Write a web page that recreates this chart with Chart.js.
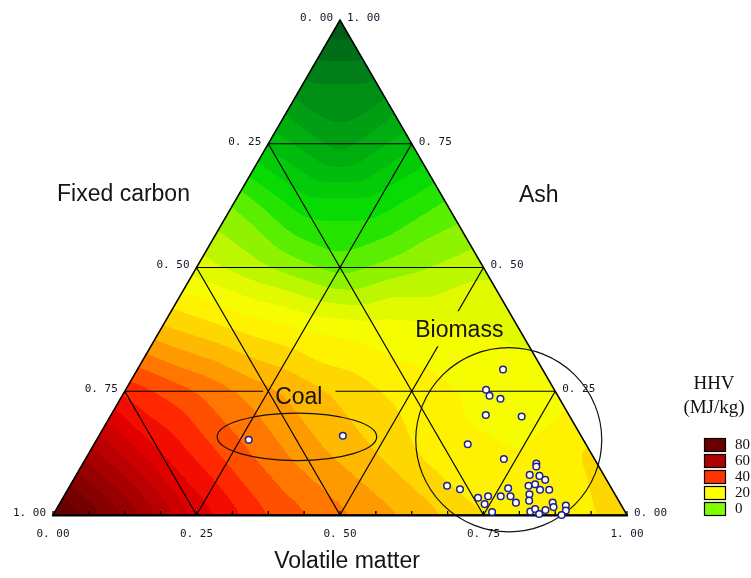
<!DOCTYPE html>
<html><head><meta charset="utf-8">
<script src="https://cdn.jsdelivr.net/npm/chart.js@4.4.1/dist/chart.umd.min.js"></script>
<style>html,body{margin:0;padding:0;background:#fff;overflow:hidden}#wrap{width:751px;height:578px;position:relative}</style>
</head><body><div id="wrap"><canvas id="c" width="751" height="578"></canvas></div>
<script>
// ---------- DATA ----------
const tickValues = [0, 0.25, 0.5, 0.75, 1];
const axisBottomName = 'Volatile matter';
const axisLeftName = 'Fixed carbon';
const axisRightName = 'Ash';

// Biomass samples (mass fractions)
const biomassVolatile = [0.637,0.628,0.640,0.662,0.653,0.717,0.651,0.729,0.790,0.793,0.657,0.683,0.790,0.808,0.822,0.799,0.809,0.823,0.839,0.766,0.761,0.778,0.794,0.723,0.739,0.741,0.762,0.809,0.815,0.828,0.834,0.846,0.853,0.858,0.864,0.884,0.889,0.886];
const biomassAsh      = [0.294,0.253,0.241,0.235,0.202,0.199,0.143,0.113,0.104,0.098,0.059,0.052,0.081,0.079,0.071,0.059,0.062,0.051,0.051,0.054,0.038,0.038,0.025,0.035,0.038,0.022,0.006,0.042,0.029,0.007,0.012,0.002,0.010,0.025,0.016,0.019,0.009,0.000];
const biomassFixedCarbon = [0.069,0.119,0.119,0.103,0.145,0.084,0.206,0.158,0.106,0.109,0.284,0.265,0.129,0.113,0.107,0.142,0.129,0.126,0.110,0.180,0.201,0.184,0.181,0.242,0.223,0.237,0.232,0.149,0.156,0.165,0.154,0.152,0.137,0.117,0.120,0.097,0.102,0.114];

// Coal samples
const coalVolatile = [0.265, 0.425];
const coalAsh = [0.152, 0.160];
const coalFixedCarbon = [0.583, 0.415];

// HHV (MJ/kg) surface read on a 1/8 ternary grid; each row = fixed ash level, entries = fixed carbon 0, 1/8, 2/8 ...
const hhvAsh000 = [27, 20, 24, 31, 37, 44, 55, 72, 86];
const hhvAsh125 = [25, 20, 21, 28, 34, 42, 52, 66];
const hhvAsh250 = [18, 19, 22, 27, 33, 40, 47];
const hhvAsh375 = [15, 17, 18, 20, 24, 29];
const hhvAsh500 = [11, 7, 2, 8, 14];
const hhvAsh625 = [1, -6, -6, 4];
const hhvAsh750 = [-13, -22, -13];
const hhvAsh875 = [-28, -28];
const hhvAsh1000 = [-40];

const legendTitle1 = 'HHV';
const legendTitle2 = '(MJ/kg)';
const legendLevels = [80, 60, 40, 20, 0];

// ---------- STYLE ----------
const legendColors = ['#6a0000', '#b00000', '#ff3300', '#ffff00', '#80ff00'];
const paletteStops = [
  [-44,[0,72,20]],[-36,[0,100,24]],[-28,[0,135,22]],[-20,[0,165,16]],[-12,[0,195,10]],
  [-4,[10,225,0]],[2,[90,238,0]],[8,[170,245,0]],[14,[225,250,0]],[20,[255,255,0]],
  [25,[255,222,0]],[30,[255,185,0]],[35,[255,145,0]],[40,[255,100,0]],[46,[255,40,0]],
  [52,[235,0,0]],[60,[195,0,0]],[70,[150,0,0]],[80,[110,0,0]],[90,[80,0,0]]
];
const BAND = 4;
const TICKFONT = "11px 'DejaVu Sans Mono', monospace";
const TITLEFONT = "23px 'Liberation Sans', Arial, sans-serif";

const hhvRows = [hhvAsh000,hhvAsh125,hhvAsh250,hhvAsh375,hhvAsh500,hhvAsh625,hhvAsh750,hhvAsh875,hhvAsh1000];

function nodeVal(i, j) {
  i = Math.max(0, Math.min(8, i));
  const r = hhvRows[i];
  return r[Math.max(0, Math.min(r.length - 1, j))];
}
function hhvAt(A, F) {
  const n = 8;
  const a = A * n, f = F * n;
  const ia = Math.min(Math.floor(a), n - 1), jf = Math.min(Math.floor(f), n - 1);
  const da = a - ia, df = f - jf;
  if (da + df <= 1 || ia + jf + 2 > n) {
    const v00 = nodeVal(ia, jf), v10 = nodeVal(ia + 1, jf), v01 = nodeVal(ia, jf + 1);
    return v00 + da * (v10 - v00) + df * (v01 - v00);
  }
  const v11 = nodeVal(ia + 1, jf + 1), v10 = nodeVal(ia + 1, jf), v01 = nodeVal(ia, jf + 1);
  return v11 + (1 - da) * (v01 - v11) + (1 - df) * (v10 - v11);
}
function colorFor(v) {
  if (v <= paletteStops[0][0]) return paletteStops[0][1];
  for (let k = 1; k < paletteStops.length; k++) {
    if (v <= paletteStops[k][0]) {
      const [v0, c0] = paletteStops[k - 1], [v1, c1] = paletteStops[k];
      const t = (v - v0) / (v1 - v0);
      return [0,1,2].map(m => Math.round(c0[m] + t * (c1[m] - c0[m])));
    }
  }
  return paletteStops[paletteStops.length - 1][1];
}
function boxBlur(src, w, h, r) {
  const tmp = new Float32Array(w * h), out = new Float32Array(w * h);
  for (let j = 0; j < h; j++) {
    let s = 0; const row = j * w;
    for (let i = -r; i <= r; i++) s += src[row + Math.max(0, Math.min(w - 1, i))];
    for (let i = 0; i < w; i++) {
      tmp[row + i] = s / (2 * r + 1);
      s += src[row + Math.min(w - 1, i + r + 1)] - src[row + Math.max(0, i - r)];
    }
  }
  for (let i = 0; i < w; i++) {
    let s = 0;
    for (let j = -r; j <= r; j++) s += tmp[Math.max(0, Math.min(h - 1, j)) * w + i];
    for (let j = 0; j < h; j++) {
      out[j * w + i] = s / (2 * r + 1);
      s += tmp[Math.min(h - 1, j + r + 1) * w + i] - tmp[Math.max(0, j - r) * w + i];
    }
  }
  return out;
}
const fmt = t => t.toFixed(2).replace('.', '. ');

// ternary -> cartesian data coordinates (x along base, y = ash)
const toXY = (V, A) => ({x: V + A / 2, y: A});

const biomassData = biomassVolatile.map((v, i) => toXY(v, biomassAsh[i]));
const coalData = coalVolatile.map((v, i) => toXY(v, coalAsh[i]));

// annotation shapes (data units)
const biomassCircle = {cx: 0.794, cy: 0.152, rx: 0.162, ry: 0.186};
const coalEllipse = {cx: 0.425, cy: 0.158, rx: 0.139, ry: 0.048};
// each label interrupts one grid line: [family, level]
const annoLabels = [
  {t: 'Coal', x: 0.387, y: 0.224, breaks: ['A', 0.25]},
  {t: 'Biomass', x: 0.631, y: 0.359, breaks: ['V', 0.5]}
];

const ternaryPlugin = {
  id: 'ternary',
  beforeDatasetsDraw(chart) {
    const ctx = chart.ctx, xs = chart.scales.x, ys = chart.scales.y;
    const P = (V, A) => { const d = toXY(V, A); return [xs.getPixelForValue(d.x), ys.getPixelForValue(d.y)]; };

    // ---- contour field ----
    const M = 24;
    const x0 = Math.floor(xs.getPixelForValue(0)) - M, x1 = Math.ceil(xs.getPixelForValue(1)) + M;
    const y0 = Math.floor(ys.getPixelForValue(1)) - M, y1 = Math.ceil(ys.getPixelForValue(0)) + M;
    const w = x1 - x0, h = y1 - y0;
    const field = new Float32Array(w * h);
    const inside = new Uint8Array(w * h);
    for (let j = 0; j < h; j++) {
      const A0 = ys.getValueForPixel(y0 + j + 0.5);
      for (let i = 0; i < w; i++) {
        const xv = xs.getValueForPixel(x0 + i + 0.5);
        const V0 = xv - A0 / 2, F0 = 1 - V0 - A0;
        if (A0 >= 0 && V0 >= -0.001 && F0 >= -0.001) inside[j * w + i] = 1;
        let A = Math.max(0, Math.min(1, A0)), V = Math.max(0, V0), F = Math.max(0, F0);
        const s = A + V + F; A /= s; F /= s;
        field[j * w + i] = hhvAt(A, F);
      }
    }
    const sm = boxBlur(boxBlur(field, w, h, 9), w, h, 9);
    const off = document.createElement('canvas'); off.width = w; off.height = h;
    const octx = off.getContext('2d'); const img = octx.createImageData(w, h); const d = img.data;
    for (let k = 0; k < w * h; k++) {
      if (!inside[k]) continue;
      const c = colorFor(Math.floor(sm[k] / BAND) * BAND + BAND / 2);
      d[k * 4] = c[0]; d[k * 4 + 1] = c[1]; d[k * 4 + 2] = c[2]; d[k * 4 + 3] = 255;
    }
    octx.putImageData(img, 0, 0);
    ctx.drawImage(off, x0, y0);

    // ---- grid (with label knockouts) ----
    ctx.save();
    ctx.font = TITLEFONT;
    const labels = annoLabels.map(l => ({...l, px: xs.getPixelForValue(l.x), py: ys.getPixelForValue(l.y), w: ctx.measureText(l.t).width}));
    ctx.strokeStyle = '#000'; ctx.lineWidth = 1.2;
    const gridLine = (fam, t, a, b) => {
      ctx.save();
      const ko = labels.filter(l => l.breaks[0] === fam && l.breaks[1] === t);
      if (ko.length) {
        ctx.beginPath(); ctx.rect(0, 0, chart.width, chart.height);
        ko.forEach(l => ctx.rect(l.px - 12, l.py - 26, l.w + 25, 35));
        ctx.clip('evenodd');
      }
      ctx.beginPath(); ctx.moveTo(a[0], a[1]); ctx.lineTo(b[0], b[1]); ctx.stroke();
      ctx.restore();
    };
    for (const t of [0.25, 0.5, 0.75]) {
      gridLine('A', t, P(0, t), P(1 - t, t));
      gridLine('V', t, P(t, 0), P(t, 1 - t));
      gridLine('F', 1 - t, P(1 - t, 0), P(0, 1 - t));
    }
    ctx.restore();

    // ---- triangle edges ----
    ctx.save();
    const bl = P(0, 0), br = P(1, 0), ap = P(0, 1);
    ctx.strokeStyle = '#000'; ctx.lineWidth = 1.5;
    ctx.beginPath(); ctx.moveTo(bl[0], bl[1]); ctx.lineTo(br[0], br[1]); ctx.lineTo(ap[0], ap[1]); ctx.closePath(); ctx.stroke();
    ctx.lineWidth = 2.2;
    ctx.beginPath(); ctx.moveTo(bl[0] - 1, bl[1] + 0.5); ctx.lineTo(br[0] + 1, br[1] + 0.5); ctx.stroke();
    ctx.lineWidth = 1.3;
    for (let k = 0; k <= 16; k++) {
      const p = P(k / 16, 0);
      ctx.beginPath(); ctx.moveTo(p[0], p[1]); ctx.lineTo(p[0], p[1] - 4); ctx.stroke();
    }

    // ---- tick labels ----
    ctx.font = TICKFONT; ctx.fillStyle = '#15152a';
    ctx.textBaseline = 'middle';
    tickValues.forEach(t => {
      let p = P(t, 0);
      ctx.textAlign = 'center'; ctx.fillText(fmt(t), p[0], p[1] + 19);
      p = P(0, 1 - t);
      ctx.textAlign = 'right'; ctx.fillText(fmt(t), p[0] - 7, p[1] - 2);
      p = P(1 - t, t);
      ctx.textAlign = 'left'; ctx.fillText(fmt(t), p[0] + 7, p[1] - 2);
    });

    // ---- axis titles ----
    ctx.font = TITLEFONT; ctx.fillStyle = '#141414';
    ctx.textAlign = 'left'; ctx.textBaseline = 'middle';
    ctx.fillText(axisLeftName, 57, 195);
    ctx.fillText(axisRightName, 519, 196);
    ctx.textAlign = 'center';
    ctx.fillText(axisBottomName, 347, 562);

    // ---- annotations ----
    ctx.textAlign = 'left'; ctx.textBaseline = 'alphabetic';
    labels.forEach(l => ctx.fillText(l.t, l.px, l.py));
    ctx.strokeStyle = '#111'; ctx.lineWidth = 1.2;
    [biomassCircle, coalEllipse].forEach(e => {
      const cx = xs.getPixelForValue(e.cx), cy = ys.getPixelForValue(e.cy);
      const rx = Math.abs(xs.getPixelForValue(e.cx + e.rx) - cx), ry = Math.abs(ys.getPixelForValue(e.cy + e.ry) - cy);
      ctx.beginPath(); ctx.ellipse(cx, cy, rx, ry, 0, 0, Math.PI * 2); ctx.stroke();
    });
    ctx.restore();
  },
  afterDraw(chart) {
    const ctx = chart.ctx;
    ctx.save();
    ctx.fillStyle = '#111';
    ctx.font = "19px 'Liberation Serif', 'Times New Roman', serif";
    ctx.textAlign = 'center'; ctx.textBaseline = 'middle';
    ctx.fillText(legendTitle1, 714, 384);
    ctx.fillText(legendTitle2, 714, 408);
    ctx.font = "15px 'Liberation Serif', 'Times New Roman', serif";
    ctx.textAlign = 'left';
    legendLevels.forEach((lv, i) => {
      const top = 438 + i * 16;
      ctx.fillStyle = legendColors[i];
      ctx.fillRect(704, top, 22, 14);
      ctx.strokeStyle = '#000'; ctx.lineWidth = 1.2;
      ctx.strokeRect(704.5, top + 0.5, 21, 13);
      ctx.fillStyle = '#111';
      ctx.fillText(String(lv), 735, top + 7.5);
    });
    ctx.restore();
  }
};

new Chart(document.getElementById('c'), {
  type: 'scatter',
  data: {
    datasets: [
      {label: 'Biomass', data: biomassData, pointRadius: 3.3, pointBorderWidth: 1.5,
       pointBackgroundColor: '#ffffff', pointBorderColor: '#1f1f8f', clip: false},
      {label: 'Coal', data: coalData, pointRadius: 3.3, pointBorderWidth: 1.5,
       pointBackgroundColor: '#ffffff', pointBorderColor: '#1f1f8f', clip: false}
    ]
  },
  options: {
    responsive: false, animation: false, events: [],
    layout: {padding: {left: 53, right: 124, top: 20, bottom: 63}},
    plugins: {legend: {display: false}, tooltip: {enabled: false}},
    scales: {
      x: {type: 'linear', min: 0, max: 1, display: false},
      y: {type: 'linear', min: 0, max: 1, display: false}
    }
  },
  plugins: [ternaryPlugin]
});
</script>
</body></html>
